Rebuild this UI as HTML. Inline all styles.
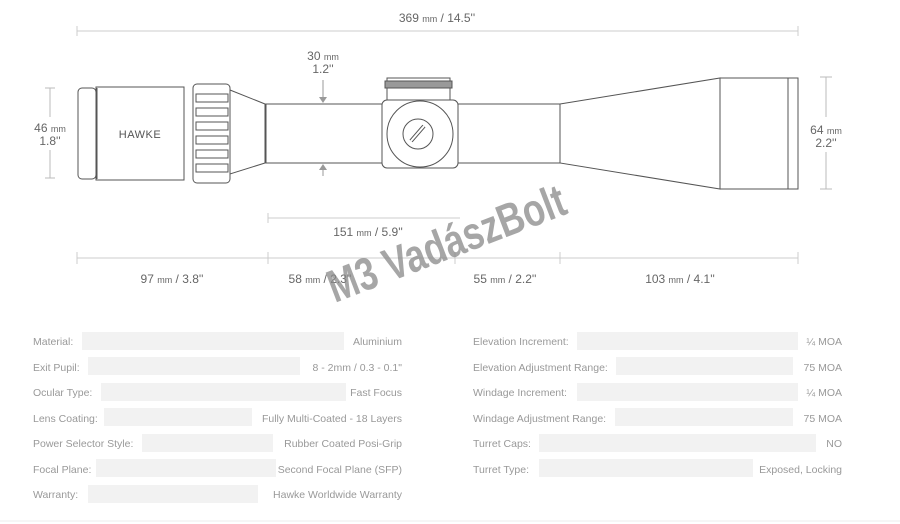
<!DOCTYPE html>
<html><head><meta charset="utf-8"><style>
html,body{margin:0;padding:0;background:#fff;}
svg{display:block;}
text{font-family:"Liberation Sans",sans-serif;}
</style></head><body>
<svg width="900" height="524" viewBox="0 0 900 524" xmlns="http://www.w3.org/2000/svg">
<text x="437" y="22" font-size="12" fill="#666" text-anchor="middle">369 <tspan font-size="9">mm</tspan> / 14.5''</text>
<line x1="77" y1="31" x2="798" y2="31" stroke="#ccc" stroke-width="1"/>
<line x1="77" y1="26" x2="77" y2="36" stroke="#ccc"/>
<line x1="798" y1="26" x2="798" y2="36" stroke="#ccc"/>
<text x="323" y="60" font-size="12" fill="#666" text-anchor="middle">30 <tspan font-size="9">mm</tspan></text>
<text x="323" y="73" font-size="12" fill="#666" text-anchor="middle">1.2''</text>
<line x1="323" y1="80" x2="323" y2="100" stroke="#999"/>
<polygon points="319,97 327,97 323,103" fill="#999"/>
<line x1="323" y1="168" x2="323" y2="176" stroke="#999"/>
<polygon points="319,170 327,170 323,164" fill="#999"/>
<line x1="50" y1="88" x2="50" y2="117" stroke="#bbb"/><line x1="50" y1="150" x2="50" y2="178" stroke="#bbb"/>
<line x1="45" y1="88" x2="55" y2="88" stroke="#bbb"/><line x1="45" y1="178" x2="55" y2="178" stroke="#bbb"/>
<text x="50" y="132" font-size="12" fill="#666" text-anchor="middle">46 <tspan font-size="9">mm</tspan></text>
<text x="50" y="145" font-size="12" fill="#666" text-anchor="middle">1.8''</text>
<line x1="826" y1="77" x2="826" y2="117" stroke="#bbb"/><line x1="826" y1="152" x2="826" y2="189" stroke="#bbb"/>
<line x1="820" y1="77" x2="832" y2="77" stroke="#bbb"/><line x1="820" y1="189" x2="832" y2="189" stroke="#bbb"/>
<text x="826" y="134" font-size="12" fill="#666" text-anchor="middle">64 <tspan font-size="9">mm</tspan></text>
<text x="826" y="147" font-size="12" fill="#666" text-anchor="middle">2.2''</text>
<g fill="#fff" stroke="#555" stroke-width="1">
<rect x="78" y="88" width="18" height="91" rx="4"/>
<rect x="96" y="87" width="88" height="93"/>
<path d="M230,90 L265,104 L265,163 L230,174 Z"/>
<rect x="193" y="84" width="37" height="99" rx="4"/>
<rect x="266" y="104" width="117" height="59"/>
<rect x="458" y="104" width="102" height="59"/>
<path d="M560,104 L720,78 L720,189 L560,163 Z"/>
<rect x="720" y="78" width="68" height="111"/>
<rect x="788" y="78" width="10" height="111"/>
<rect x="387" y="78" width="63" height="24"/>
<rect x="385" y="81" width="67" height="7" fill="#999"/>
<rect x="382" y="100" width="76" height="68" rx="5"/>
<circle cx="420" cy="134" r="33"/>
<circle cx="418" cy="134" r="15"/>
</g>
<line x1="97" y1="88" x2="97" y2="179" stroke="#555"/>
<line x1="411" y1="141" x2="424" y2="126" stroke="#555" stroke-width="4"/>
<line x1="411" y1="141" x2="424" y2="126" stroke="#fff" stroke-width="2"/>
<g fill="#fff" stroke="#555">
<rect x="196" y="94" width="32" height="8"/><rect x="196" y="108" width="32" height="8"/>
<rect x="196" y="122" width="32" height="8"/><rect x="196" y="136" width="32" height="8"/>
<rect x="196" y="150" width="32" height="8"/><rect x="196" y="164" width="32" height="8"/>
</g>
<text x="140" y="138" font-size="11" fill="#555" text-anchor="middle" letter-spacing="0.5">HAWKE</text>
<line x1="268" y1="218" x2="460" y2="218" stroke="#ccc"/>
<line x1="268" y1="213" x2="268" y2="223" stroke="#ccc"/>
<text x="368" y="236" font-size="12" fill="#666" text-anchor="middle">151 <tspan font-size="9">mm</tspan> / 5.9''</text>
<line x1="77" y1="258" x2="798" y2="258" stroke="#ccc"/>
<g stroke="#ccc"><line x1="77" y1="252" x2="77" y2="264"/><line x1="268" y1="252" x2="268" y2="264"/><line x1="455" y1="252" x2="455" y2="264"/><line x1="560" y1="252" x2="560" y2="264"/><line x1="798" y1="252" x2="798" y2="264"/></g>
<g font-size="12" fill="#666" text-anchor="middle">
<text x="172" y="283">97 <tspan font-size="9">mm</tspan> / 3.8''</text>
<text x="320" y="283">58 <tspan font-size="9">mm</tspan> / 2.3''</text>
<text x="505" y="283">55 <tspan font-size="9">mm</tspan> / 2.2''</text>
<text x="680" y="283">103 <tspan font-size="9">mm</tspan> / 4.1''</text>
</g>
<g transform="translate(452 258) rotate(-21) scale(0.78 1)">
<text x="0" y="0" font-size="46" font-weight="bold" fill="#888" fill-opacity="0.75" text-anchor="middle">M3 VadászBolt</text>
</g>
<g fill="#f2f2f2">
<rect x="82" y="332" width="262" height="18"/><rect x="88" y="357" width="212" height="18"/>
<rect x="101" y="383" width="245" height="18"/><rect x="104" y="408" width="148" height="18"/>
<rect x="142" y="434" width="131" height="18"/><rect x="96" y="459" width="180" height="18"/>
<rect x="88" y="485" width="170" height="18"/>
<rect x="577" y="332" width="221" height="18"/><rect x="616" y="357" width="177" height="18"/>
<rect x="577" y="383" width="221" height="18"/><rect x="615" y="408" width="178" height="18"/>
<rect x="539" y="434" width="277" height="18"/><rect x="539" y="459" width="214" height="18"/>
</g>
<g font-size="10.5" fill="#999">
<text x="33" y="345">Material:</text><text x="33" y="371">Exit Pupil:</text><text x="33" y="396">Ocular Type:</text>
<text x="33" y="422">Lens Coating:</text><text x="33" y="447">Power Selector Style:</text><text x="33" y="473">Focal Plane:</text>
<text x="33" y="498">Warranty:</text>
<text x="473" y="345">Elevation Increment:</text><text x="473" y="371">Elevation Adjustment Range:</text>
<text x="473" y="396">Windage Increment:</text><text x="473" y="422">Windage Adjustment Range:</text>
<text x="473" y="447">Turret Caps:</text><text x="473" y="473">Turret Type:</text>
</g>
<g font-size="10.5" fill="#999" text-anchor="end">
<text x="402" y="345">Aluminium</text><text x="402" y="371">8 - 2mm / 0.3 - 0.1"</text><text x="402" y="396">Fast Focus</text>
<text x="402" y="422">Fully Multi-Coated - 18 Layers</text><text x="402" y="447">Rubber Coated Posi-Grip</text>
<text x="402" y="473">Second Focal Plane (SFP)</text><text x="402" y="498">Hawke Worldwide Warranty</text>
<text x="842" y="345">¼ MOA</text><text x="842" y="371">75 MOA</text><text x="842" y="396">¼ MOA</text>
<text x="842" y="422">75 MOA</text><text x="842" y="447">NO</text><text x="842" y="473">Exposed, Locking</text>
</g>
<line x1="0" y1="521" x2="900" y2="521" stroke="#eee"/>
</svg>
</body></html>
